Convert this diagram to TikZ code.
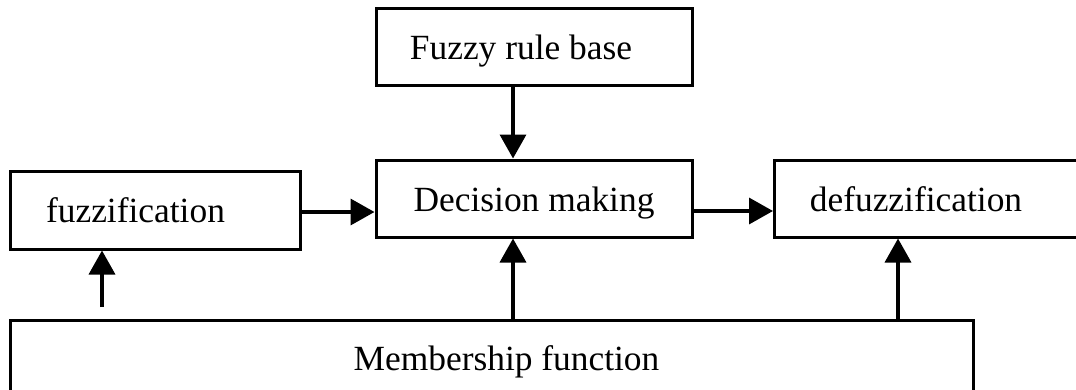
\documentclass[tikz,border=0pt]{standalone}
\usepackage{fontspec}
\setmainfont{Liberation Serif}
\usepackage{tikz}
\usetikzlibrary{arrows.meta, positioning, calc}

\begin{document}
\begin{tikzpicture}[x=1pt, y=-1pt,
        block/.style={draw, line width=3pt, minimum height=77pt, inner sep=0pt,
            text height=25.5pt, text depth=0pt, font=\fontsize{35.4}{40}\selectfont},
        flow/.style={line width=3.5pt, -{Triangle[length=24pt, width=26pt]}}]
        % Frame
        \path[use as bounding box, clip] (0,0) rectangle (1076,389);
        \fill[white] (0,0) rectangle (1076,389);

        % Boxes
        \node[block, minimum width=316pt] (rule)   at (534,47)  {Fuzzy rule base\hspace*{26pt}};
        \node[block, minimum width=316pt] (dec)    at (534,198.5) {Decision making};
        \node[block, minimum width=290pt, minimum height=78pt] (fuzz) at (155,210) {fuzzification\hspace*{39pt}};
        \node[block, minimum width=315pt] (defuzz) at (932,198.5) {defuzzification\hspace*{32pt}};
        \node[block, minimum width=963pt, minimum height=76pt] (memb) at (491.5,358) {\hspace*{30pt}Membership function};

        % Columns of the vertical arrows
        \coordinate (mid)   at (513,0);
        \coordinate (right) at (898,0);
        \coordinate (start) at (102,307);

        % Arrows
        \draw[flow] (rule.south -| mid) -- (dec.north -| mid);
        \draw[flow] ([yshift=-2pt]fuzz.east) -- ([yshift=-2pt]fuzz.east -| dec.west);
        \draw[flow] ([yshift=-12.5pt]dec.east) -- ([yshift=-12.5pt]dec.east -| defuzz.west);
        \draw[flow] (start) -- (start |- fuzz.south);
        \draw[flow] (memb.north -| mid) -- (dec.south -| mid);
        \draw[flow] (memb.north -| right) -- (defuzz.south -| right);
    \end{tikzpicture}
\end{document}
